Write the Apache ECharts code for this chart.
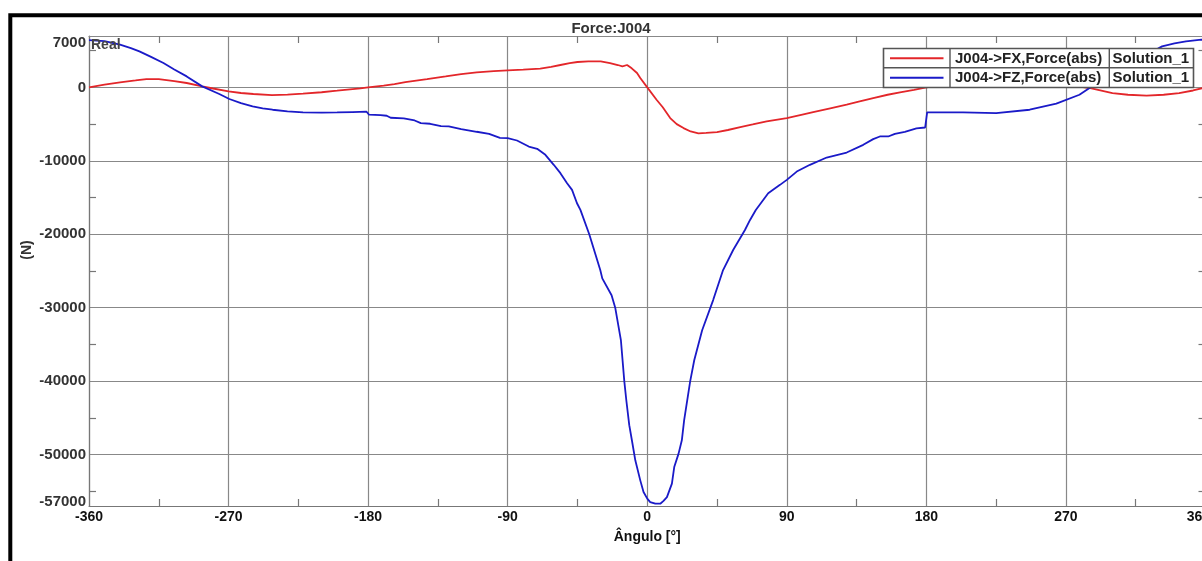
<!DOCTYPE html>
<html>
<head>
<meta charset="utf-8">
<script src="https://cdn.jsdelivr.net/npm/echarts@6/dist/echarts.min.js"></script>
<style>
html,body{margin:0;padding:0;background:#fff;}
#c{width:1202px;height:561px;}
</style>
</head>
<body>
<div id="c"></div>
<script>
// ---- data ----
const titleText = 'Force:J004';
const xTickLabels = [-360, -270, -180, -90, 0, 90, 180, 270, 360];
const yTickLabels = [7000, 0, -10000, -20000, -30000, -40000, -50000, -57000];
const yMinorTicks = [5000, -5000, -15000, -25000, -35000, -45000, -55000];
const seriesNames = ['J004->FX,Force(abs)', 'J004->FZ,Force(abs)'];
const solutionName = 'Solution_1';

const fxAngle = [-360,-350,-340,-330,-323,-315,-305,-297,-287,-280,-270,-262,-254,-242,-232,-222,-210,-200,-190,-185,-180,
  -170,-163,-156,-142,-130,-120,-110,-99,-90,-80,-69,-62,-56,-50,-45,-38,-30,-24,-19,-16,-13,-10,-6.6,-4.5,0,
  6,10,14.8,19,23.4,28,33,38,45,52,60,68,77,90,100,107,118,128.6,137,145.7,155,163,172,180,
  200,220,240,260,275,285,300,310,322,333,343,352,360];
const fxValue = [0,380,680,950,1140,1120,850,600,140,-150,-540,-760,-900,-1040,-980,-860,-660,-450,-230,-130,0,
  250,460,730,1140,1500,1820,2050,2230,2320,2420,2550,2800,3050,3300,3460,3550,3550,3320,3050,2870,3050,2600,1960,1280,0,
  -1680,-2700,-4180,-5000,-5540,-6000,-6270,-6200,-6090,-5800,-5400,-5050,-4630,-4180,-3700,-3360,-2850,-2360,-1900,-1450,-1000,-680,-330,0,
  500,800,850,600,250,-80,-770,-1000,-1130,-1000,-770,-420,0];

const fzAngle = [-360,-350,-340,-333,-327.5,-320,-312,-305,-297,-287,-276,-269.5,-262,-254.5,-248,-241.6,-232,-222,-210,-200,-190,-181,
  -180,-179.4,-172,-168,-165.5,-157,-150,-146,-140,-133,-128,-120,-110,-102,-95,-90,-84,-76.4,-71,-65.7,-60.3,-56,-51.7,-48.5,-45.3,-43.1,
  -37.4,-30.3,-29,-23,-20.6,-17,-14.8,-13.5,-11.6,-9.9,-7.7,-4.5,-2.4,0,1.9,5.2,8.4,10.5,12.7,15.9,17.4,20.2,22.3,23.8,27.7,30.3,35.4,
  42.5,48.9,55.4,63,66.3,70,78,85.6,90,96.4,104.9,115.7,128.6,139.3,145.7,150,155.4,159.7,166.1,173.6,179.2,180.5,203.6,225,246.6,263.8,
  278.7,285.2,292,300,310,320,332,340,347.4,357.3,360];
const fzValue = [6450,6300,5820,5350,4910,4150,3330,2450,1500,140,-900,-1580,-2150,-2590,-2850,-3040,-3250,-3410,-3430,-3410,-3360,-3310,
  -3410,-3720,-3770,-3860,-4130,-4230,-4500,-4860,-4950,-5270,-5320,-5680,-6040,-6320,-6860,-6900,-7230,-8050,-8360,-9180,-10540,-11680,-13040,-13950,-15770,-16680,
  -20000,-24870,-26000,-28300,-30050,-34400,-40000,-42600,-46000,-48050,-50780,-53510,-55100,-56000,-56460,-56690,-56690,-56300,-55790,-53960,-51700,-49870,-48050,-45300,-40000,-37150,-33060,
  -28960,-24870,-22140,-19420,-18050,-16690,-14410,-13270,-12590,-11460,-10540,-9550,-8870,-7820,-7040,-6680,-6680,-6320,-6050,-5590,-5460,-3410,-3410,-3500,-3040,-2220,
  -1000,-90,900,1900,3150,4200,5590,6000,6270,6500,6450];

const colors = ['#e3262a', '#1a1ac8'];

// ---- chart ----
const chart = echarts.init(document.getElementById('c'), null, {renderer: 'canvas'});
const FONT = 'Liberation Sans, Arial, sans-serif';
const GRID_COLOR = '#888';

function pairs(xs, ys) { return xs.map((x, i) => [x, ys[i]]); }

const xLabelFmt = function (v) {
  if (v === 360) return '{r|' + v + '}';
  return '{n|' + v + '}';
};
const xRich = {
  r: {fontFamily: FONT, fontWeight: 'bold', fontSize: 14, color: '#111', padding: [0, 14, 0, 0]},
  n: {fontFamily: FONT, fontWeight: 'bold', fontSize: 14, color: '#111'}
};
const yLabelFmt = function (v) {
  if (v === 7000) return '{t|' + v + '}';
  if (v === -57000) return '{b|' + v + '}';
  return '{n|' + v + '}';
};
const yRich = {
  t: {fontFamily: FONT, fontWeight: 'bold', fontSize: 15, color: '#333', padding: [13, 0, 0, 0]},
  b: {fontFamily: FONT, fontWeight: 'bold', fontSize: 15, color: '#333', padding: [0, 0, 9, 0]},
  n: {fontFamily: FONT, fontWeight: 'bold', fontSize: 15, color: '#333'}
};

const baseX = {
  type: 'value', min: -360, max: 360, interval: 90
};
const baseY = {
  type: 'value', min: -57000, max: 7000
};

const option = {
  animation: false,
  backgroundColor: '#fff',
  grid: {left: 89, top: 36, right: -3.5, bottom: 55, containLabel: false, outerBoundsMode: 'none'},
  xAxis: [
    Object.assign({}, baseX, {
      position: 'bottom',
      name: 'Ângulo [°]', nameLocation: 'middle', nameGap: 24,
      nameTextStyle: {fontFamily: FONT, fontWeight: 'bold', fontSize: 14, color: '#111'},
      axisLine: {show: true, onZero: false, lineStyle: {color: '#777', width: 1.2}},
      axisTick: {show: false, inside: true},
      minorTick: {show: true, splitNumber: 2, length: 7, lineStyle: {color: '#777', width: 1.2}},
      minorSplitLine: {show: false},
      axisLabel: {
        show: true, margin: 4, fontFamily: FONT, fontWeight: 'bold', fontSize: 14, color: '#111',
        customValues: xTickLabels, formatter: xLabelFmt, rich: xRich
      },
      splitLine: {show: true, lineStyle: {color: GRID_COLOR, width: 1.2}}
    }),
    Object.assign({}, baseX, {
      position: 'top',
      axisLine: {show: true, onZero: false, lineStyle: {color: '#888', width: 1.2}},
      axisTick: {show: false, inside: true},
      minorTick: {show: true, splitNumber: 2, length: 7, lineStyle: {color: '#777', width: 1.2}},
      axisLabel: {show: false},
      splitLine: {show: false}
    })
  ],
  yAxis: [
    Object.assign({}, baseY, {
      position: 'left',
      axisLine: {show: true, onZero: false, lineStyle: {color: '#777', width: 1.2}},
      axisTick: {show: false, customValues: yTickLabels},
      axisLabel: {show: true, margin: 3, customValues: yTickLabels, formatter: yLabelFmt, rich: yRich,
        fontFamily: FONT, fontWeight: 'bold', fontSize: 15, color: '#333'},
      splitLine: {show: true, lineStyle: {color: GRID_COLOR, width: 1.2}}
    }),
    Object.assign({}, baseY, {
      position: 'left',
      axisLine: {show: false, onZero: false},
      axisTick: {show: true, inside: true, length: 7, customValues: yMinorTicks, lineStyle: {color: '#777', width: 1.2}},
      axisLabel: {show: false},
      splitLine: {show: false}
    }),
    Object.assign({}, baseY, {
      position: 'right',
      axisLine: {show: true, onZero: false, lineStyle: {color: '#777', width: 1.2}},
      axisTick: {show: true, inside: true, length: 7, customValues: yMinorTicks, lineStyle: {color: '#777', width: 1.2}},
      axisLabel: {show: false},
      splitLine: {show: false}
    })
  ],
  series: [
    {
      name: seriesNames[0], type: 'line', xAxisIndex: 0, yAxisIndex: 0,
      data: pairs(fxAngle, fxValue), showSymbol: false, symbol: 'none',
      lineStyle: {color: colors[0], width: 1.8}, itemStyle: {color: colors[0]}, z: 3
    },
    {
      name: seriesNames[1], type: 'line', xAxisIndex: 0, yAxisIndex: 0,
      data: pairs(fzAngle, fzValue), showSymbol: false, symbol: 'none',
      lineStyle: {color: colors[1], width: 1.8}, itemStyle: {color: colors[1]}, z: 3
    }
  ],
  graphic: [
    {type: 'rect', z: 200, silent: true, shape: {x: 10.3, y: 15.3, width: 1400, height: 800},
      style: {fill: null, stroke: '#000', lineWidth: 4}},
    {type: 'text', z: 100, x: 611, y: 29, style: {text: titleText, fontFamily: FONT, fontWeight: 'bold', fontSize: 15,
      fill: '#333', align: 'center', verticalAlign: 'middle'}},
    {type: 'text', z: 100, x: 91, y: 45, style: {text: 'Real', fontFamily: FONT, fontWeight: 'bold', fontSize: 14,
      fill: '#444', align: 'left', verticalAlign: 'middle'}},
    {type: 'text', z: 100, x: 27, y: 250, rotation: Math.PI / 2, style: {text: '(N)', fontFamily: FONT, fontWeight: 'bold', fontSize: 14,
      fill: '#333', align: 'center', verticalAlign: 'middle'}},
    {
      type: 'group', z: 100,
      children: [
        {type: 'rect', z: 100, shape: {x: 883.5, y: 48.5, width: 310, height: 39}, style: {fill: '#fff', stroke: '#555', lineWidth: 1.6}},
        {type: 'line', z: 101, shape: {x1: 883.5, y1: 67.8, x2: 1193.5, y2: 67.8}, style: {stroke: '#555', lineWidth: 1.4}},
        {type: 'line', z: 101, shape: {x1: 950, y1: 48.5, x2: 950, y2: 87.5}, style: {stroke: '#555', lineWidth: 1.4}},
        {type: 'line', z: 101, shape: {x1: 1109.3, y1: 48.5, x2: 1109.3, y2: 87.5}, style: {stroke: '#555', lineWidth: 1.4}},
        {type: 'line', z: 101, shape: {x1: 890, y1: 58.3, x2: 943.5, y2: 58.3}, style: {stroke: colors[0], lineWidth: 2}},
        {type: 'line', z: 101, shape: {x1: 890, y1: 77.7, x2: 943.5, y2: 77.7}, style: {stroke: colors[1], lineWidth: 2}},
        {type: 'text', z: 101, x: 955, y: 58.5, style: {text: seriesNames[0], fontFamily: FONT, fontWeight: 'bold', fontSize: 15, fill: '#222', align: 'left', verticalAlign: 'middle'}},
        {type: 'text', z: 101, x: 955, y: 77.8, style: {text: seriesNames[1], fontFamily: FONT, fontWeight: 'bold', fontSize: 15, fill: '#222', align: 'left', verticalAlign: 'middle'}},
        {type: 'text', z: 101, x: 1112.5, y: 58.5, style: {text: solutionName, fontFamily: FONT, fontWeight: 'bold', fontSize: 15, fill: '#222', align: 'left', verticalAlign: 'middle'}},
        {type: 'text', z: 101, x: 1112.5, y: 77.8, style: {text: solutionName, fontFamily: FONT, fontWeight: 'bold', fontSize: 15, fill: '#222', align: 'left', verticalAlign: 'middle'}}
      ]
    }
  ]
};
chart.setOption(option);
</script>
</body>
</html>
